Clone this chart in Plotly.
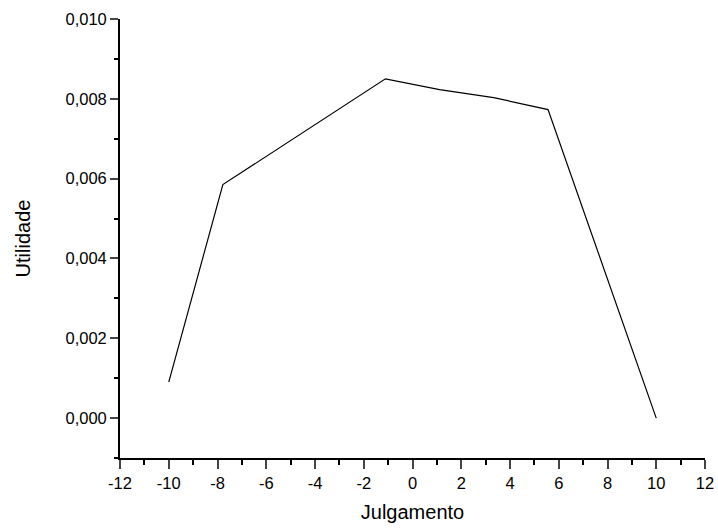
import plotly.graph_objects as go

julgamento = [-10.0, -7.78, -1.11, 1.11, 3.33, 5.56, 10.0]
utilidade = [0.0009, 0.00585, 0.0085, 0.00823, 0.00803, 0.00773, 0.0]

x_ticks = [-12, -10, -8, -6, -4, -2, 0, 2, 4, 6, 8, 10, 12]
x_labels = ["-12", "-10", "-8", "-6", "-4", "-2", "0", "2", "4", "6", "8", "10", "12"]
y_ticks = [0.000, 0.002, 0.004, 0.006, 0.008, 0.010]
y_labels = ["0,000", "0,002", "0,004", "0,006", "0,008", "0,010"]

fig = go.Figure()
fig.add_trace(go.Scatter(x=julgamento, y=utilidade, mode="lines",
                         line=dict(color="black", width=1.2), showlegend=False))

font = "Liberation Sans, Arial, sans-serif"
fig.update_layout(
    width=718, height=532,
    margin=dict(l=120, r=13, t=19, b=74),
    paper_bgcolor="white", plot_bgcolor="white",
    separators=",.",
    font=dict(family=font, color="black", size=16),
    xaxis=dict(range=[-12, 12], tickvals=x_ticks, ticktext=x_labels, ticks="outside", ticklen=9, tickwidth=1.5,
               showline=True, linecolor="black", linewidth=1.8, showgrid=False, zeroline=False,
               minor=dict(dtick=1, tick0=0, ticks="outside", ticklen=5, tickwidth=1.5, tickcolor="black", showgrid=False),
               tickfont=dict(size=16.5), automargin=False,
               title=dict(text="Julgamento", font=dict(size=20), standoff=14)),
    yaxis=dict(range=[-0.001, 0.010], tickvals=y_ticks, ticktext=y_labels, ticks="outside", ticklen=8, tickwidth=1.5,
               showline=True, linecolor="black", linewidth=1.8, showgrid=False, zeroline=False,
               minor=dict(dtick=0.001, tick0=0, ticks="outside", ticklen=4, tickwidth=1.5, tickcolor="black", showgrid=False),
               tickfont=dict(size=16.5), automargin=False,
               title=dict(text="Utilidade", font=dict(size=20), standoff=30)),
)

fig.write_html("out.html")
